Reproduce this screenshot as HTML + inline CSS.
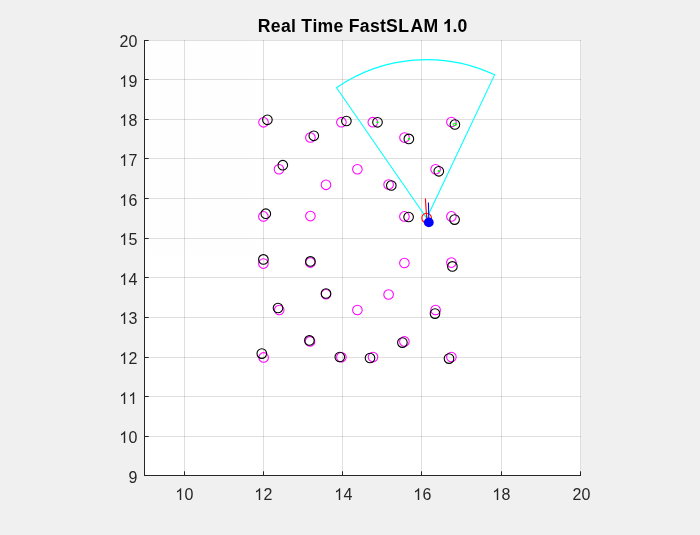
<!DOCTYPE html>
<html><head><meta charset="utf-8"><title>Real Time FastSLAM 1.0</title>
<style>
html,body{margin:0;padding:0;background:#f0f0f0;}
body{width:700px;height:535px;overflow:hidden;font-family:"Liberation Sans",sans-serif;}
svg{display:block;will-change:transform;opacity:0.999}
text{font-family:"Liberation Sans",sans-serif;fill:#262626}
.tk{font-size:16px}
.tt{font-kerning:none;font-size:17.6px;font-weight:bold;fill:#000}
.g1{fill:#262626}
.crisp{shape-rendering:crispEdges}
</style></head><body>
<svg width="700" height="535" viewBox="0 0 700 535">
<rect x="0" y="0" width="700" height="535" fill="#f0f0f0"/>
<rect x="144" y="40" width="437" height="436" fill="#fff"/>
<path class="crisp" d="M184.5 40V476M263.5 40V476M342.5 40V476M421.5 40V476M501.5 40V476M580.5 40V476" stroke="#262626" stroke-opacity="0.15" stroke-width="1" fill="none"/>
<path class="crisp" d="M144 436.5H581M144 396.5H581M144 357.5H581M144 317.5H581M144 277.5H581M144 238.5H581M144 198.5H581M144 158.5H581M144 119.5H581M144 79.5H581M144 40.5H581" stroke="#262626" stroke-opacity="0.15" stroke-width="1" fill="none"/>
<path class="crisp" d="M144.5 40V476M144 475.5H581" stroke="#262626" stroke-width="1" fill="none"/>
<path d="M184.5 476v-4.7M263.5 476v-4.7M342.5 476v-4.7M421.5 476v-4.7M501.5 476v-4.7M580.5 476v-4.7M144 475.5h4.7M144 436.5h4.7M144 396.5h4.7M144 357.5h4.7M144 317.5h4.7M144 277.5h4.7M144 238.5h4.7M144 198.5h4.7M144 158.5h4.7M144 119.5h4.7M144 79.5h4.7M144 40.5h4.7" stroke="#262626" stroke-width="1" fill="none"/>
<path class="g1" transform="translate(175.24 500.00) scale(0.007812 -0.008047)" d="M763 0H583V1147Q518 1085 412.5 1023T223 930V1104Q374 1175 487 1276T647 1472H763Z"/>
<text class="tk" x="184.50" y="500.00">0</text>
<path class="g1" transform="translate(254.24 500.00) scale(0.007812 -0.008047)" d="M763 0H583V1147Q518 1085 412.5 1023T223 930V1104Q374 1175 487 1276T647 1472H763Z"/>
<text class="tk" x="263.50" y="500.00">2</text>
<path class="g1" transform="translate(334.24 500.00) scale(0.007812 -0.008047)" d="M763 0H583V1147Q518 1085 412.5 1023T223 930V1104Q374 1175 487 1276T647 1472H763Z"/>
<text class="tk" x="343.50" y="500.00">4</text>
<path class="g1" transform="translate(413.24 500.00) scale(0.007812 -0.008047)" d="M763 0H583V1147Q518 1085 412.5 1023T223 930V1104Q374 1175 487 1276T647 1472H763Z"/>
<text class="tk" x="422.50" y="500.00">6</text>
<path class="g1" transform="translate(492.24 500.00) scale(0.007812 -0.008047)" d="M763 0H583V1147Q518 1085 412.5 1023T223 930V1104Q374 1175 487 1276T647 1472H763Z"/>
<text class="tk" x="501.50" y="500.00">8</text>
<text class="tk" x="572.50" y="500.00">20</text>
<text class="tk" x="128.50" y="483.00">9</text>
<path class="g1" transform="translate(119.24 443.00) scale(0.007812 -0.008047)" d="M763 0H583V1147Q518 1085 412.5 1023T223 930V1104Q374 1175 487 1276T647 1472H763Z"/>
<text class="tk" x="128.50" y="443.00">0</text>
<path class="g1" transform="translate(119.24 404.00) scale(0.007812 -0.008047)" d="M763 0H583V1147Q518 1085 412.5 1023T223 930V1104Q374 1175 487 1276T647 1472H763Z"/>
<path class="g1" transform="translate(128.24 404.00) scale(0.007812 -0.008047)" d="M763 0H583V1147Q518 1085 412.5 1023T223 930V1104Q374 1175 487 1276T647 1472H763Z"/>
<path class="g1" transform="translate(119.24 364.00) scale(0.007812 -0.008047)" d="M763 0H583V1147Q518 1085 412.5 1023T223 930V1104Q374 1175 487 1276T647 1472H763Z"/>
<text class="tk" x="128.50" y="364.00">2</text>
<path class="g1" transform="translate(119.24 324.00) scale(0.007812 -0.008047)" d="M763 0H583V1147Q518 1085 412.5 1023T223 930V1104Q374 1175 487 1276T647 1472H763Z"/>
<text class="tk" x="128.50" y="324.00">3</text>
<path class="g1" transform="translate(119.24 285.00) scale(0.007812 -0.008047)" d="M763 0H583V1147Q518 1085 412.5 1023T223 930V1104Q374 1175 487 1276T647 1472H763Z"/>
<text class="tk" x="128.50" y="285.00">4</text>
<path class="g1" transform="translate(119.24 245.00) scale(0.007812 -0.008047)" d="M763 0H583V1147Q518 1085 412.5 1023T223 930V1104Q374 1175 487 1276T647 1472H763Z"/>
<text class="tk" x="128.50" y="245.00">5</text>
<path class="g1" transform="translate(119.24 206.00) scale(0.007812 -0.008047)" d="M763 0H583V1147Q518 1085 412.5 1023T223 930V1104Q374 1175 487 1276T647 1472H763Z"/>
<text class="tk" x="128.50" y="206.00">6</text>
<path class="g1" transform="translate(119.24 166.00) scale(0.007812 -0.008047)" d="M763 0H583V1147Q518 1085 412.5 1023T223 930V1104Q374 1175 487 1276T647 1472H763Z"/>
<text class="tk" x="128.50" y="166.00">7</text>
<path class="g1" transform="translate(119.24 126.00) scale(0.007812 -0.008047)" d="M763 0H583V1147Q518 1085 412.5 1023T223 930V1104Q374 1175 487 1276T647 1472H763Z"/>
<text class="tk" x="128.50" y="126.00">8</text>
<path class="g1" transform="translate(119.24 87.00) scale(0.007812 -0.008047)" d="M763 0H583V1147Q518 1085 412.5 1023T223 930V1104Q374 1175 487 1276T647 1472H763Z"/>
<text class="tk" x="128.50" y="87.00">9</text>
<text class="tk" x="119.50" y="47.00">20</text>
<text class="tt" y="32" x="257.85 270.85 280.93 291.02 301.36 312.40 317.57 333.51 348.77 359.80 369.89 379.97 386.11 398.14 410.40 423.40 452.38 457.55">RealTimeFastSLAM.0</text>
<path fill="#000" transform="translate(443.0 32) scale(0.008594 -0.008766)" d="M806 0H525V1059Q371 915 162 846V1101Q272 1137 401 1237.5T578 1472H806Z"/>
<g fill="none" stroke="#ff00ff" stroke-width="1.05">
<circle cx="263.5" cy="122.3" r="4.8"/>
<circle cx="310.4" cy="137.5" r="4.8"/>
<circle cx="341.4" cy="122.2" r="4.8"/>
<circle cx="372.8" cy="122.2" r="4.8"/>
<circle cx="404.5" cy="137.6" r="4.8"/>
<circle cx="451.4" cy="122.0" r="4.8"/>
<circle cx="279.0" cy="169.2" r="4.8"/>
<circle cx="326.0" cy="184.8" r="4.8"/>
<circle cx="357.4" cy="169.2" r="4.8"/>
<circle cx="388.6" cy="184.6" r="4.8"/>
<circle cx="435.6" cy="169.2" r="4.8"/>
<circle cx="263.4" cy="216.4" r="4.8"/>
<circle cx="310.4" cy="216.1" r="4.8"/>
<circle cx="404.4" cy="216.4" r="4.8"/>
<circle cx="451.4" cy="216.4" r="4.8"/>
<circle cx="263.4" cy="263.6" r="4.8"/>
<circle cx="310.4" cy="262.6" r="4.8"/>
<circle cx="404.4" cy="263.0" r="4.8"/>
<circle cx="451.4" cy="262.6" r="4.8"/>
<circle cx="326.0" cy="294.2" r="4.8"/>
<circle cx="388.6" cy="294.5" r="4.8"/>
<circle cx="279.2" cy="310.0" r="4.8"/>
<circle cx="357.4" cy="310.0" r="4.8"/>
<circle cx="435.6" cy="310.0" r="4.8"/>
<circle cx="310.0" cy="341.4" r="4.8"/>
<circle cx="404.4" cy="341.4" r="4.8"/>
<circle cx="263.6" cy="357.4" r="4.8"/>
<circle cx="341.4" cy="357.2" r="4.8"/>
<circle cx="373.0" cy="357.1" r="4.8"/>
<circle cx="451.4" cy="357.0" r="4.8"/>
</g>
<path d="M426.7 218.2L336.53 87.73A158.6 158.6 0 0 1 494.60 74.87Z" fill="none" stroke="#00ffff" stroke-width="1.1" stroke-linejoin="round"/>
<g fill="none" stroke="#000" stroke-width="1.1">
<circle cx="267.4" cy="119.8" r="4.8"/>
<circle cx="313.8" cy="135.8" r="4.8"/>
<circle cx="346.4" cy="121.0" r="4.8"/>
<circle cx="377.5" cy="122.3" r="4.8"/>
<circle cx="408.85" cy="138.9" r="4.8"/>
<circle cx="454.9" cy="124.5" r="4.8"/>
<circle cx="282.8" cy="165.2" r="4.8"/>
<circle cx="391.3" cy="185.5" r="4.8"/>
<circle cx="438.8" cy="171.3" r="4.8"/>
<circle cx="265.8" cy="213.7" r="4.8"/>
<circle cx="408.6" cy="217.0" r="4.8"/>
<circle cx="454.6" cy="219.6" r="4.8"/>
<circle cx="263.4" cy="259.4" r="4.8"/>
<circle cx="310.4" cy="261.4" r="4.8"/>
<circle cx="452.4" cy="266.4" r="4.8"/>
<circle cx="326.0" cy="293.5" r="4.8"/>
<circle cx="278.0" cy="308.0" r="4.8"/>
<circle cx="435.0" cy="313.6" r="4.8"/>
<circle cx="309.4" cy="340.4" r="4.8"/>
<circle cx="402.4" cy="342.6" r="4.8"/>
<circle cx="261.8" cy="353.6" r="4.8"/>
<circle cx="339.8" cy="357.0" r="4.8"/>
<circle cx="370.0" cy="358.0" r="4.8"/>
<circle cx="449.0" cy="358.6" r="4.8"/>
</g>
<g fill="#00ff00" stroke="none">
<ellipse cx="377.5" cy="122.3" rx="1.3" ry="1.1"/>
<ellipse cx="408.85" cy="138.9" rx="1.1" ry="1.1"/>
<ellipse cx="438.7" cy="171.1" rx="1.1" ry="1.1"/>
</g>
<ellipse cx="454.9" cy="124.4" rx="1.75" ry="1.2" transform="rotate(-12 454.9 124.4)" fill="none" stroke="#00ff00" stroke-width="1"/>
<circle cx="426.65" cy="218.1" r="4.8" fill="none" stroke="#ff0000" stroke-width="1.1"/>
<path d="M426.65 218.1L425.4 198.5" stroke="#ff0000" stroke-width="1.1" fill="none"/>
<path d="M428.9 222.4L428.4 202.6" stroke="#0000ff" stroke-width="1.1" fill="none"/>
<circle cx="428.8" cy="222.4" r="4.9" fill="#0000ff"/>
</svg></body></html>
